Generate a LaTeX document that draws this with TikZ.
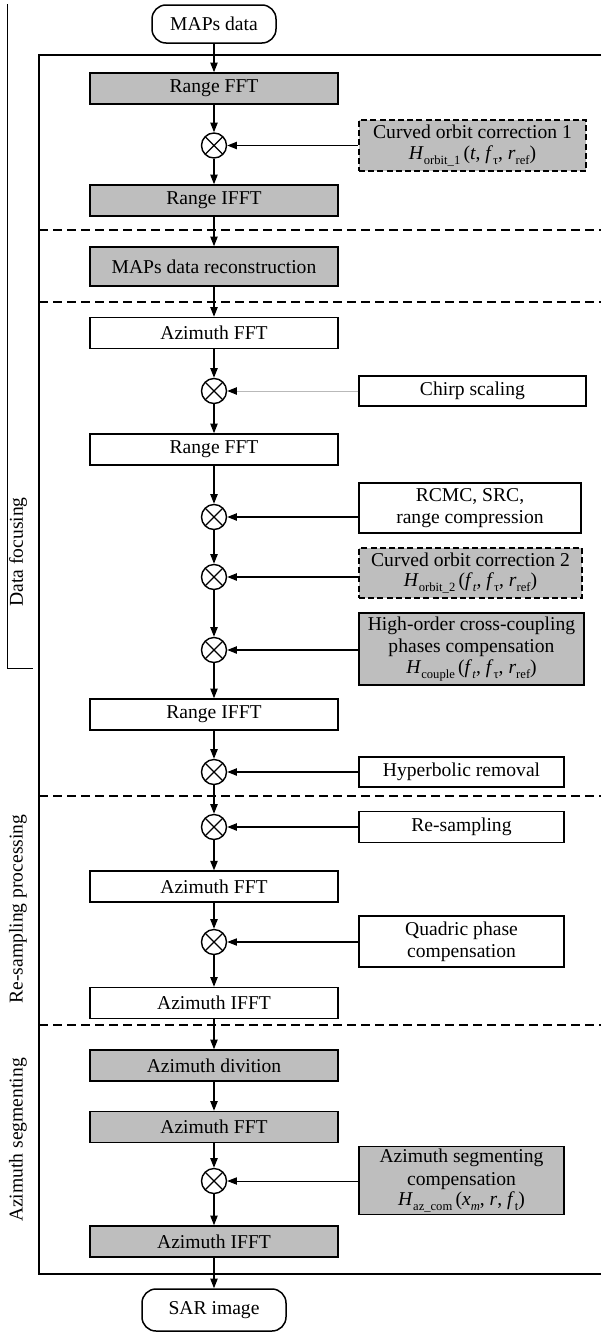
\documentclass[tikz,border=0pt]{standalone}
\usepackage{fontspec}
\setmainfont{Liberation Serif}
\usetikzlibrary{arrows.meta,calc}
\definecolor{boxgray}{RGB}{190,190,190}
\newcommand{\lsub}[1]{\raisebox{-0.55ex}{\fontsize{6.3}{6}\selectfont #1}}
\begin{document}
\begin{tikzpicture}[x=0.5pt,y=-0.5pt,
  every node/.style={font=\fontsize{9.8}{11.2}\selectfont},
  mainbox/.style={draw,line width=0.75pt,minimum width=124pt,minimum height=15.5pt,inner sep=0pt},
  grayfill/.style={fill=boxgray},
  sidebox/.style={draw,line width=0.75pt,inner sep=0pt,align=center},
  dashbox/.style={draw,line width=0.8pt,dash pattern=on 3pt off 1.6pt,fill=boxgray,inner sep=0pt,align=center},
  mult/.style={draw,circle,line width=0.7pt,minimum size=12.5pt,inner sep=0pt,
    path picture={\draw[line width=0.6pt] (path picture bounding box.north west) -- (path picture bounding box.south east)
      (path picture bounding box.north east) -- (path picture bounding box.south west);}},
  flow/.style={line width=0.75pt,-{Triangle[length=4.8pt,width=3.6pt]}},
  term/.style={draw,line width=0.75pt,rounded corners=7pt,inner sep=0pt},
  sep/.style={line width=0.8pt,dash pattern=on 4.5pt off 2.5pt},
  frame/.style={line width=0.9pt},
]
\useasboundingbox (0,0) rectangle (601,1333);

% thin left line
\coordinate (t1) at (7,4);
\coordinate (t2) at (7,668);
\coordinate (t3) at (33,668);
\draw[line width=0.5pt] (t1) -- (t2) -- (t3);

% frame
\coordinate (fa) at (601,55);
\coordinate (fb) at (39,55);
\coordinate (fc) at (39,1274);
\coordinate (fd) at (601,1274);
\draw[frame] (fa) -- (fb) -- (fc) -- (fd);

% separators
\foreach \yy in {230,302,796,1025}{
  \draw[sep] (39,\yy) -- (601,\yy);
}

% side labels
\node[rotate=90] (lab1) at (18,552) {Data focusing};
\node[rotate=90] (lab2) at (18,909) {Re-sampling processing};
\node[rotate=90] (lab3) at (18,1140) {Azimuth segmenting};

% terminals
\node[term,minimum width=62pt,minimum height=19pt] (in) at (214,24) {MAPs data};
\node[term,minimum width=72pt,minimum height=21pt] (out) at (214,1310) {SAR image};

% main column
\node[mainbox,grayfill] (b1) at (214,88.5) {Range FFT};
\node[mult] (c1) at (214,145.5) {};
\node[mainbox,grayfill] (b2) at (214,200.5) {Range IFFT};
\node[mainbox,grayfill,minimum height=19.5pt] (b3) at (214,266.5) {MAPs data reconstruction};
\node[mainbox] (b4) at (214,333) {Azimuth FFT};
\node[mult] (c2) at (214,391) {};
\node[mainbox] (b5) at (214,449.5) {Range FFT};
\node[mult] (c3) at (214,517) {};
\node[mult] (c4) at (214,577) {};
\node[mult] (c5) at (214,650) {};
\node[mainbox] (b6) at (214,714.5) {Range IFFT};
\node[mult] (c6) at (214,772) {};
\node[mult] (c7) at (214,827) {};
\node[mainbox] (b7) at (214,886.7) {Azimuth FFT};
\node[mult] (c8) at (214,942) {};
\node[mainbox] (b8) at (214,1003) {Azimuth IFFT};
\node[mainbox,grayfill] (b9) at (214,1065.5) {Azimuth divition};
\node[mainbox,grayfill] (b10) at (214,1127) {Azimuth FFT};
\node[mult] (c9) at (214,1181) {};
\node[mainbox,grayfill] (b11) at (214,1241.5) {Azimuth IFFT};

% side boxes
\node[dashbox,minimum width=113.5pt,minimum height=25.5pt] (s1) at (472.5,145.5)
  {Curved orbit correction 1\\[-1pt]\textit{H}\lsub{orbit\_1}\,(\textit{t}, \textit{f}\lsub{τ}, \textit{r}\lsub{ref})};
\node[sidebox,minimum width=113.5pt,minimum height=15pt] (s2) at (472.5,391) {Chirp scaling};
\node[sidebox,minimum width=111pt,minimum height=25pt] (s3) at (470,508)
  {RCMC, SRC,\\range compression};
\node[dashbox,minimum width=111.5pt,minimum height=25pt] (s4) at (470.5,573)
  {Curved orbit correction 2\\[-1pt]\textit{H}\lsub{orbit\_2}\,(\textit{f}\lsub{\textit{t}}, \textit{f}\lsub{τ}, \textit{r}\lsub{ref})};
\node[sidebox,grayfill,minimum width=112.5pt,minimum height=36pt] (s5) at (471.5,649)
  {High-order cross-coupling\\phases compensation\\[-1pt]\textit{H}\lsub{couple}\,(\textit{f}\lsub{\textit{t}}, \textit{f}\lsub{τ}, \textit{r}\lsub{ref})};
\node[sidebox,minimum width=102.5pt,minimum height=15pt] (s6) at (461.5,772) {Hyperbolic removal};
\node[sidebox,minimum width=102.5pt,minimum height=15.5pt] (s7) at (461.5,827) {Re-sampling};
\node[sidebox,minimum width=102.5pt,minimum height=25.5pt] (s8) at (461.5,941.5)
  {Quadric phase\\compensation};
\node[sidebox,grayfill,minimum width=102.5pt,minimum height=34pt] (s9) at (461.5,1180.5)
  {Azimuth segmenting\\compensation\\[-1pt]\textit{H}\lsub{az\_com}\,(\textit{x}\lsub{\textit{m}}, \textit{r}, \textit{f}\lsub{t})};

% main flow
\draw[flow] (in) -- (b1);
\draw[flow] (b1) -- (c1);
\draw[flow] (c1) -- (b2);
\draw[flow] (b2) -- (b3);
\draw[flow] (b3) -- (b4);
\draw[flow] (b4) -- (c2);
\draw[flow] (c2) -- (b5);
\draw[flow] (b5) -- (c3);
\draw[flow] (c3) -- (c4);
\draw[flow] (c4) -- (c5);
\draw[flow] (c5) -- (b6);
\draw[flow] (b6) -- (c6);
\draw[flow] (c6) -- (c7);
\draw[flow] (c7) -- (b7);
\draw[flow] (b7) -- (c8);
\draw[flow] (c8) -- (b8);
\draw[flow] (b8) -- (b9);
\draw[flow] (b9) -- (b10);
\draw[flow] (b10) -- (c9);
\draw[flow] (c9) -- (b11);
\draw[flow] (b11) -- (out);

% side inputs
\draw[flow] (s1.west |- c1) -- (c1);
\coordinate (c2tip) at ($(c2.east)+(10,0)$);
\draw[draw=gray!55,line width=0.45pt] (s2.west |- c2) -- (c2tip);
\draw[flow] (c2tip) -- (c2);
\draw[flow] (s3.west |- c3) -- (c3);
\draw[flow] (s4.west |- c4) -- (c4);
\draw[flow] (s5.west |- c5) -- (c5);
\draw[flow] (s6.west |- c6) -- (c6);
\draw[flow] (s7.west |- c7) -- (c7);
\draw[flow,line width=0.55pt] (s8.west |- c8) -- (c8);
\draw[flow,line width=0.5pt] (s9.west |- c9) -- (c9);
\end{tikzpicture}
\end{document}
